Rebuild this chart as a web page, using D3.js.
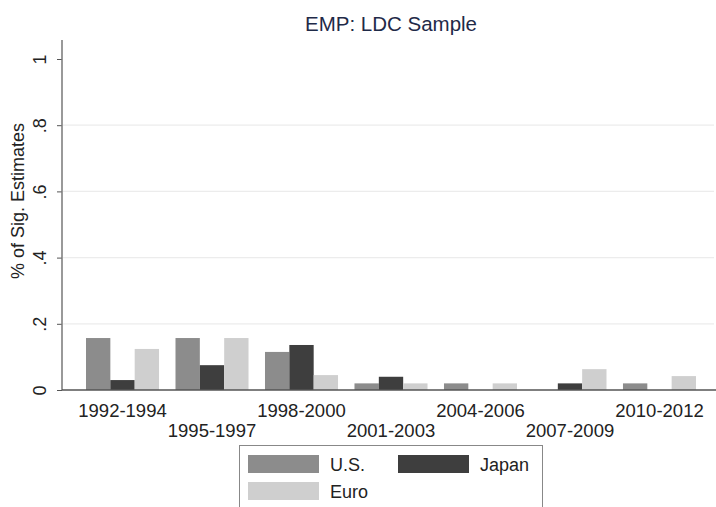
<!DOCTYPE html>
<html>
<head>
<meta charset="utf-8">
<script src="https://cdn.jsdelivr.net/npm/d3@7/dist/d3.min.js"></script>
<style>
  body { margin: 0; background: #fff; }
  svg text { font-family: "Liberation Sans", Arial, sans-serif; }
</style>
</head>
<body>
<div id="chart"></div>
<script>
// data
var periods = ["1992-1994", "1995-1997", "1998-2000", "2001-2003", "2004-2006", "2007-2009", "2010-2012"];
var seriesNames = ["U.S.", "Japan", "Euro"];
var usVals    = [0.157, 0.157, 0.115, 0.020, 0.020, 0.000, 0.020];
var japanVals = [0.030, 0.075, 0.136, 0.040, 0.000, 0.020, 0.000];
var euroVals  = [0.124, 0.157, 0.045, 0.020, 0.020, 0.063, 0.042];
var yTicks = [0, 0.2, 0.4, 0.6, 0.8, 1];
var yTickLabels = ["0", ".2", ".4", ".6", ".8", "1"];
var colors = ["#8c8c8c", "#3e3e3e", "#cfcfcf"];

var W = 716, H = 507;
var svg = d3.select("#chart").append("svg")
    .attr("width", W)
    .attr("height", H);

// scales
var x0 = d3.scaleBand()
    .domain(periods)
    .range([86, 696])
    .paddingInner(0.184)
    .paddingOuter(0);

var x1 = d3.scaleBand()
    .domain(seriesNames)
    .range([0, x0.bandwidth()]);

var y = d3.scaleLinear()
    .domain([0, 1])
    .range([390, 59]);

var color = d3.scaleOrdinal().domain(seriesNames).range(colors);

// gridlines
svg.append("g")
  .selectAll("line")
  .data(yTicks.filter(function(d){ return d > 0 && d < 1; }))
  .enter()
  .append("line")
    .attr("x1", 63).attr("x2", 714)
    .attr("y1", function(d){ return y(d); })
    .attr("y2", function(d){ return y(d); })
    .attr("stroke", "#ececec")
    .attr("stroke-width", 1.2);

// title
svg.append("text")
    .attr("x", 391)
    .attr("y", 31)
    .attr("text-anchor", "middle")
    .style("font-size", "20.5px")
    .style("fill", "#1f2a48")
    .text("EMP: LDC Sample");

// bars
var rows = periods.map(function(p, i) {
  return { period: p, values: [usVals[i], japanVals[i], euroVals[i]] };
});

svg.append("g")
  .selectAll("g")
  .data(rows)
  .enter()
  .append("g")
    .attr("transform", function(d){ return "translate(" + x0(d.period) + ",0)"; })
  .selectAll("rect")
  .data(function(d){ return d.values.map(function(v, j){ return { name: seriesNames[j], v: v }; }); })
  .enter()
  .append("rect")
    .attr("x", function(d){ return x1(d.name); })
    .attr("y", function(d){ return y(d.v); })
    .attr("width", x1.bandwidth())
    .attr("height", function(d){ return y(0) - y(d.v); })
    .attr("fill", function(d){ return color(d.name); });

// y axis
var yAxis = svg.append("g")
    .attr("transform", "translate(62,0)")
    .call(d3.axisLeft(y).tickValues(yTicks).tickSize(5).tickFormat(function(d, i){ return yTickLabels[i]; }));
yAxis.select(".domain").remove();
yAxis.selectAll(".tick line").attr("stroke", "#555");
yAxis.selectAll(".tick text")
    .attr("transform", "rotate(-90)")
    .attr("x", 0)
    .attr("y", -16)
    .attr("dy", 0)
    .attr("text-anchor", "middle")
    .style("font-size", "18px")
    .style("fill", "#222");
svg.append("line")
    .attr("x1", 62).attr("x2", 62)
    .attr("y1", 40).attr("y2", 390)
    .attr("stroke", "#777")
    .attr("stroke-width", 1.5);

// x axis baseline
svg.append("line")
    .attr("x1", 62).attr("x2", 716)
    .attr("y1", y(0)).attr("y2", y(0))
    .attr("stroke", "#555")
    .attr("stroke-width", 1.5);

// x labels, staggered
svg.append("g")
  .selectAll("text")
  .data(periods)
  .enter()
  .append("text")
    .attr("x", function(d){ return x0(d) + x0.bandwidth() / 2; })
    .attr("y", function(d, i){ return i % 2 === 0 ? 417 : 437; })
    .attr("text-anchor", "middle")
    .style("font-size", "18.5px")
    .style("fill", "#222")
    .text(function(d){ return d; });

// y title
svg.append("text")
    .attr("transform", "translate(24,201) rotate(-90)")
    .attr("text-anchor", "middle")
    .style("font-size", "18px")
    .style("fill", "#222")
    .text("% of Sig. Estimates");

// legend
var legend = svg.append("g");
legend.append("rect")
    .attr("x", 239.5).attr("y", 445.5)
    .attr("width", 303).attr("height", 70)
    .attr("fill", "#fff")
    .attr("stroke", "#888");

var legendPos = [
  { name: "U.S.",  x: 248, y: 455 },
  { name: "Japan", x: 398, y: 455 },
  { name: "Euro",  x: 248, y: 482 }
];
legend.selectAll("rect.key")
  .data(legendPos)
  .enter()
  .append("rect")
    .attr("class", "key")
    .attr("x", function(d){ return d.x; })
    .attr("y", function(d){ return d.y; })
    .attr("width", 71)
    .attr("height", 18)
    .attr("fill", function(d){ return color(d.name); });
legend.selectAll("text")
  .data(legendPos)
  .enter()
  .append("text")
    .attr("x", function(d){ return d.x + 82; })
    .attr("y", function(d){ return d.y + 16; })
    .style("font-size", "18px")
    .style("fill", "#222")
    .text(function(d){ return d.name; });
</script>
</body>
</html>
